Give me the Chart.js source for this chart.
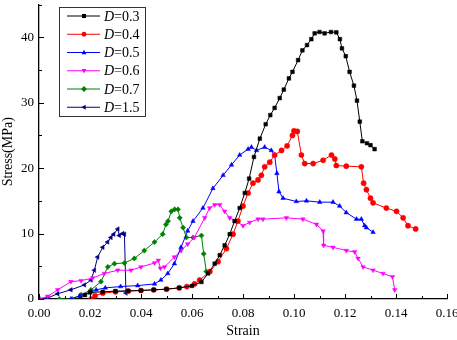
<!DOCTYPE html>
<html>
<head>
<meta charset="utf-8">
<script src="https://cdn.jsdelivr.net/npm/chart.js@4"></script>
<style>
  body { margin: 0; background: #fff; }
  canvas { display: block; }
</style>
</head>
<body>
<canvas id="chart" width="457" height="340"></canvas>
<script>
// strain / stress values
const labels = ["0.3", "0.4", "0.5", "0.6", "0.7", "1.5"];

const strain03 = [0.016,0.018,0.020,0.025,0.030,0.035,0.040,0.045,0.050,0.055,0.060,0.0637,0.0663,0.0689,0.0709,0.0728,0.0748,0.0767,0.0787,0.0807,0.0824,0.0843,0.0866,0.0889,0.0907,0.0924,0.0944,0.096,0.098,0.0994,0.1016,0.1033,0.1051,0.1068,0.1081,0.110,0.112,0.1145,0.1166,0.118,0.1188,0.1203,0.1218,0.1235,0.1247,0.1258,0.1268,0.1286,0.130,0.1316];
const stress03 = [0,0.6,1.0,1.1,1.2,1.25,1.3,1.4,1.5,1.7,2.0,2.6,3.9,5.4,6.7,8.2,9.9,11.9,13.9,16.2,18.4,21.7,24.5,26.7,28.1,29.2,30.7,32.0,33.7,34.7,36.5,38.0,38.8,39.7,40.6,40.8,40.6,40.8,40.75,39.7,38.3,37.1,34.7,32.6,30.3,27.1,24.1,23.8,23.5,22.9];

const strain04 = [0.0205,0.022,0.025,0.030,0.035,0.040,0.045,0.050,0.055,0.058,0.061,0.063,0.067,0.0702,0.0735,0.0761,0.078,0.080,0.082,0.0839,0.0859,0.0872,0.0885,0.0905,0.0924,0.0951,0.0973,0.0994,0.100,0.1013,0.1029,0.1042,0.1075,0.1114,0.1147,0.116,0.1166,0.1205,0.1264,0.1273,0.1284,0.130,0.131,0.1362,0.1402,0.1428,0.1447,0.1477];
const stress04 = [0,0.5,0.9,1.1,1.2,1.3,1.4,1.5,1.7,1.9,2.3,2.9,4.2,5.7,7.7,9.9,11.9,14.2,16.2,17.7,18.2,18.9,20.2,20.9,22.0,22.7,23.4,25.0,25.7,25.6,22.0,20.7,20.7,21.2,22.0,21.4,20.4,20.3,20.2,17.7,16.7,15.4,14.7,13.9,13.4,12.4,11.2,10.7];

const strain05 = [0.0125,0.016,0.0204,0.0224,0.026,0.032,0.0387,0.0453,0.0478,0.0505,0.0531,0.0557,0.0583,0.0604,0.0643,0.0682,0.0722,0.0755,0.0787,0.082,0.0833,0.0853,0.0885,0.0911,0.0924,0.0933,0.0941,0.0957,0.1009,0.1049,0.1101,0.1153,0.1179,0.1205,0.1245,0.1264,0.1277,0.1284,0.131];
const stress05 = [0,0.5,1.1,1.4,1.7,1.9,2.05,2.3,2.9,3.9,5.4,7.9,10.4,11.9,13.9,16.9,18.9,20.5,22.0,22.9,23.2,22.7,23.2,22.7,22.0,19.2,16.4,15.4,14.9,15.0,14.8,14.8,14.2,13.2,12.2,12.2,11.2,10.9,10.2];

const strain06 = [0,0.0034,0.0073,0.0125,0.0165,0.021,0.0256,0.0309,0.0361,0.040,0.0453,0.0468,0.0476,0.0492,0.0531,0.0557,0.0583,0.0609,0.065,0.0669,0.0689,0.0709,0.0728,0.0748,0.0774,0.080,0.0826,0.0859,0.0878,0.097,0.1035,0.1088,0.1114,0.1116,0.1153,0.1205,0.1238,0.1251,0.1271,0.131,0.1349,0.1386,0.1395];
const stress06 = [0,0.4,1.4,2.65,2.8,3.2,3.9,4.4,4.4,4.9,5.5,5.9,4.7,4.9,6.4,7.4,8.4,9.4,12.4,13.9,14.4,14.4,13.4,12.4,11.9,11.2,11.7,12.2,12.2,12.4,12.2,11.4,10.4,8.2,7.9,7.4,7.2,6.2,4.9,4.4,3.9,3.4,1.4];

const strain07 = [0.008,0.013,0.0165,0.0204,0.0243,0.027,0.0296,0.0335,0.0374,0.0413,0.0453,0.0485,0.0498,0.0506,0.0519,0.0532,0.0545,0.0552,0.0565,0.0578,0.0604,0.0637,0.0646,0.0656];
const stress07 = [0,0,0.65,1.4,2.65,4.9,5.4,5.5,6.2,7.4,8.7,9.9,11.4,11.9,13.4,13.7,13.7,12.4,10.9,9.4,9.4,9.7,6.9,4.2];

const strain15 = [0,0.0034,0.0073,0.0125,0.0178,0.0204,0.0217,0.023,0.025,0.0269,0.0282,0.0293,0.0309,0.0315,0.0328,0.0335,0.0341];
const stress15 = [0,0.15,0.8,1.4,2.15,2.9,4.4,6.4,7.9,8.7,9.4,9.9,10.7,9.7,10.0,9.9,0.9];

const xTicks = [0, 0.02, 0.04, 0.06, 0.08, 0.10, 0.12, 0.14, 0.16];
const yTicks = [0, 10, 20, 30, 40];

const colors = ["#000000", "#ff0000", "#0000ff", "#ff00ff", "#008000", "#000080"];
const styles = [
  { pointStyle: "rect", rotation: 0 },
  { pointStyle: "circle", rotation: 0 },
  { pointStyle: "triangle", rotation: 0 },
  { pointStyle: "triangle", rotation: 180 },
  { pointStyle: "rectRot", rotation: 0 },
  { pointStyle: "triangle", rotation: -90 },
];

function pairs(xs, ys) {
  const n = Math.min(xs.length, ys.length);
  const out = [];
  for (let i = 0; i < n; i++) out.push({ x: xs[i], y: ys[i] });
  return out;
}

const series = [
  pairs(strain03, stress03),
  pairs(strain04, stress04),
  pairs(strain05, stress05),
  pairs(strain06, stress06),
  pairs(strain07, stress07),
  pairs(strain15, stress15),
];

const datasets = series.map((data, i) => ({
  label: "D=" + labels[i],
  data,
  borderColor: colors[i],
  backgroundColor: colors[i],
  borderWidth: 1,
  pointStyle: styles[i].pointStyle,
  rotation: styles[i].rotation,
  pointRadius: 2.6,
  pointBorderWidth: 0.5,
  tension: 0,
}));

const serif = "'Liberation Serif', 'Times New Roman', serif";

function drawMarker(ctx, style, rotation, r, x, y, color) {
  ctx.save();
  ctx.translate(x, y);
  ctx.rotate(rotation * Math.PI / 180);
  ctx.fillStyle = color;
  ctx.beginPath();
  if (style === "rect") {
    ctx.rect(-r * 0.85, -r * 0.85, r * 1.7, r * 1.7);
  } else if (style === "rectRot") {
    ctx.moveTo(0, -r * 1.2); ctx.lineTo(r * 1.2, 0); ctx.lineTo(0, r * 1.2); ctx.lineTo(-r * 1.2, 0);
  } else if (style === "triangle") {
    ctx.moveTo(0, -r * 1.1); ctx.lineTo(r, r * 0.7); ctx.lineTo(-r, r * 0.7);
  } else {
    ctx.arc(0, 0, r, 0, Math.PI * 2);
  }
  ctx.closePath();
  ctx.fill();
  ctx.restore();
}

// inward tick marks and the boxed legend
const extras = {
  id: "extras",
  afterDraw(chart) {
    const ctx = chart.ctx;
    const xs = chart.scales.x, ys = chart.scales.y;
    const area = chart.chartArea;
    ctx.save();
    ctx.strokeStyle = "#000";
    ctx.lineWidth = 1;
    for (let k = 0; k <= 16; k++) {
      const px = Math.round(xs.getPixelForValue(k / 100)) + 0.5;
      const len = k % 2 === 0 ? 5 : 3;
      ctx.beginPath();
      ctx.moveTo(px, area.bottom);
      ctx.lineTo(px, area.bottom - len);
      ctx.stroke();
    }
    for (let v = 0; v <= 45; v += 5) {
      const py = Math.round(ys.getPixelForValue(v)) + 0.5;
      const len = v % 10 === 0 ? 5 : 3;
      ctx.beginPath();
      ctx.moveTo(area.left, py);
      ctx.lineTo(area.left + len, py);
      ctx.stroke();
    }

    // legend
    const bx = 59.5, by = 7.5, bw = 86, bh = 109, row = 18.25;
    ctx.fillStyle = "#fff";
    ctx.fillRect(bx, by, bw, bh);
    ctx.strokeStyle = "#333";
    ctx.lineWidth = 1;
    ctx.strokeRect(bx, by, bw, bh);
    chart.data.datasets.forEach((ds, i) => {
      const cy = by + 8.5 + i * row;
      ctx.strokeStyle = colors[i];
      ctx.lineWidth = 1;
      ctx.beginPath();
      ctx.moveTo(67, cy);
      ctx.lineTo(100, cy);
      ctx.stroke();
      drawMarker(ctx, styles[i].pointStyle, styles[i].rotation, 2.4, 84, cy, colors[i]);
      ctx.fillStyle = "#000";
      ctx.textBaseline = "middle";
      ctx.textAlign = "left";
      ctx.font = "italic 14px " + serif;
      ctx.fillText("D", 104, cy + 1);
      const w = ctx.measureText("D").width;
      ctx.font = "14px " + serif;
      ctx.fillText("=" + labels[i], 104 + w, cy + 1);
    });
    ctx.restore();
  },
};

new Chart(document.getElementById("chart").getContext("2d"), {
  type: "line",
  data: { datasets },
  options: {
    responsive: false,
    devicePixelRatio: 1,
    animation: false,
    layout: { padding: { left: 0, right: 10, top: 0, bottom: 0 } },
    plugins: { legend: { display: false }, tooltip: { enabled: false } },
    scales: {
      x: {
        type: "linear",
        min: 0,
        max: 0.16,
        afterBuildTicks: (scale) => { scale.ticks = xTicks.map((v) => ({ value: v })); },
        afterFit: (scale) => { scale.height = 41; scale.paddingLeft = 0; scale.paddingRight = 0; },
        grid: { display: false, drawTicks: false },
        border: { display: true, color: "#000", width: 1.3 },
        ticks: {
          padding: 7,
          color: "#000",
          font: { family: serif, size: 13 },
          maxRotation: 0,
          callback: (v) => v.toFixed(2),
        },
        title: {
          display: true,
          text: "Strain",
          color: "#000",
          font: { family: serif, size: 14 },
          padding: { top: 0, bottom: 0 },
        },
      },
      y: {
        min: 0,
        max: 45,
        afterBuildTicks: (scale) => { scale.ticks = yTicks.map((v) => ({ value: v })); },
        afterFit: (scale) => { scale.width = 39; scale.paddingTop = 0; scale.paddingBottom = 0; },
        grid: { display: false, drawTicks: false },
        border: { display: true, color: "#000", width: 1.3 },
        ticks: {
          padding: 5,
          color: "#000",
          font: { family: serif, size: 13 },
          callback: (v) => String(v),
        },
        title: {
          display: true,
          text: "Stress(MPa)",
          color: "#000",
          font: { family: serif, size: 14 },
          padding: { top: 0, bottom: 0 },
        },
      },
    },
  },
  plugins: [extras],
});
</script>
</body>
</html>
